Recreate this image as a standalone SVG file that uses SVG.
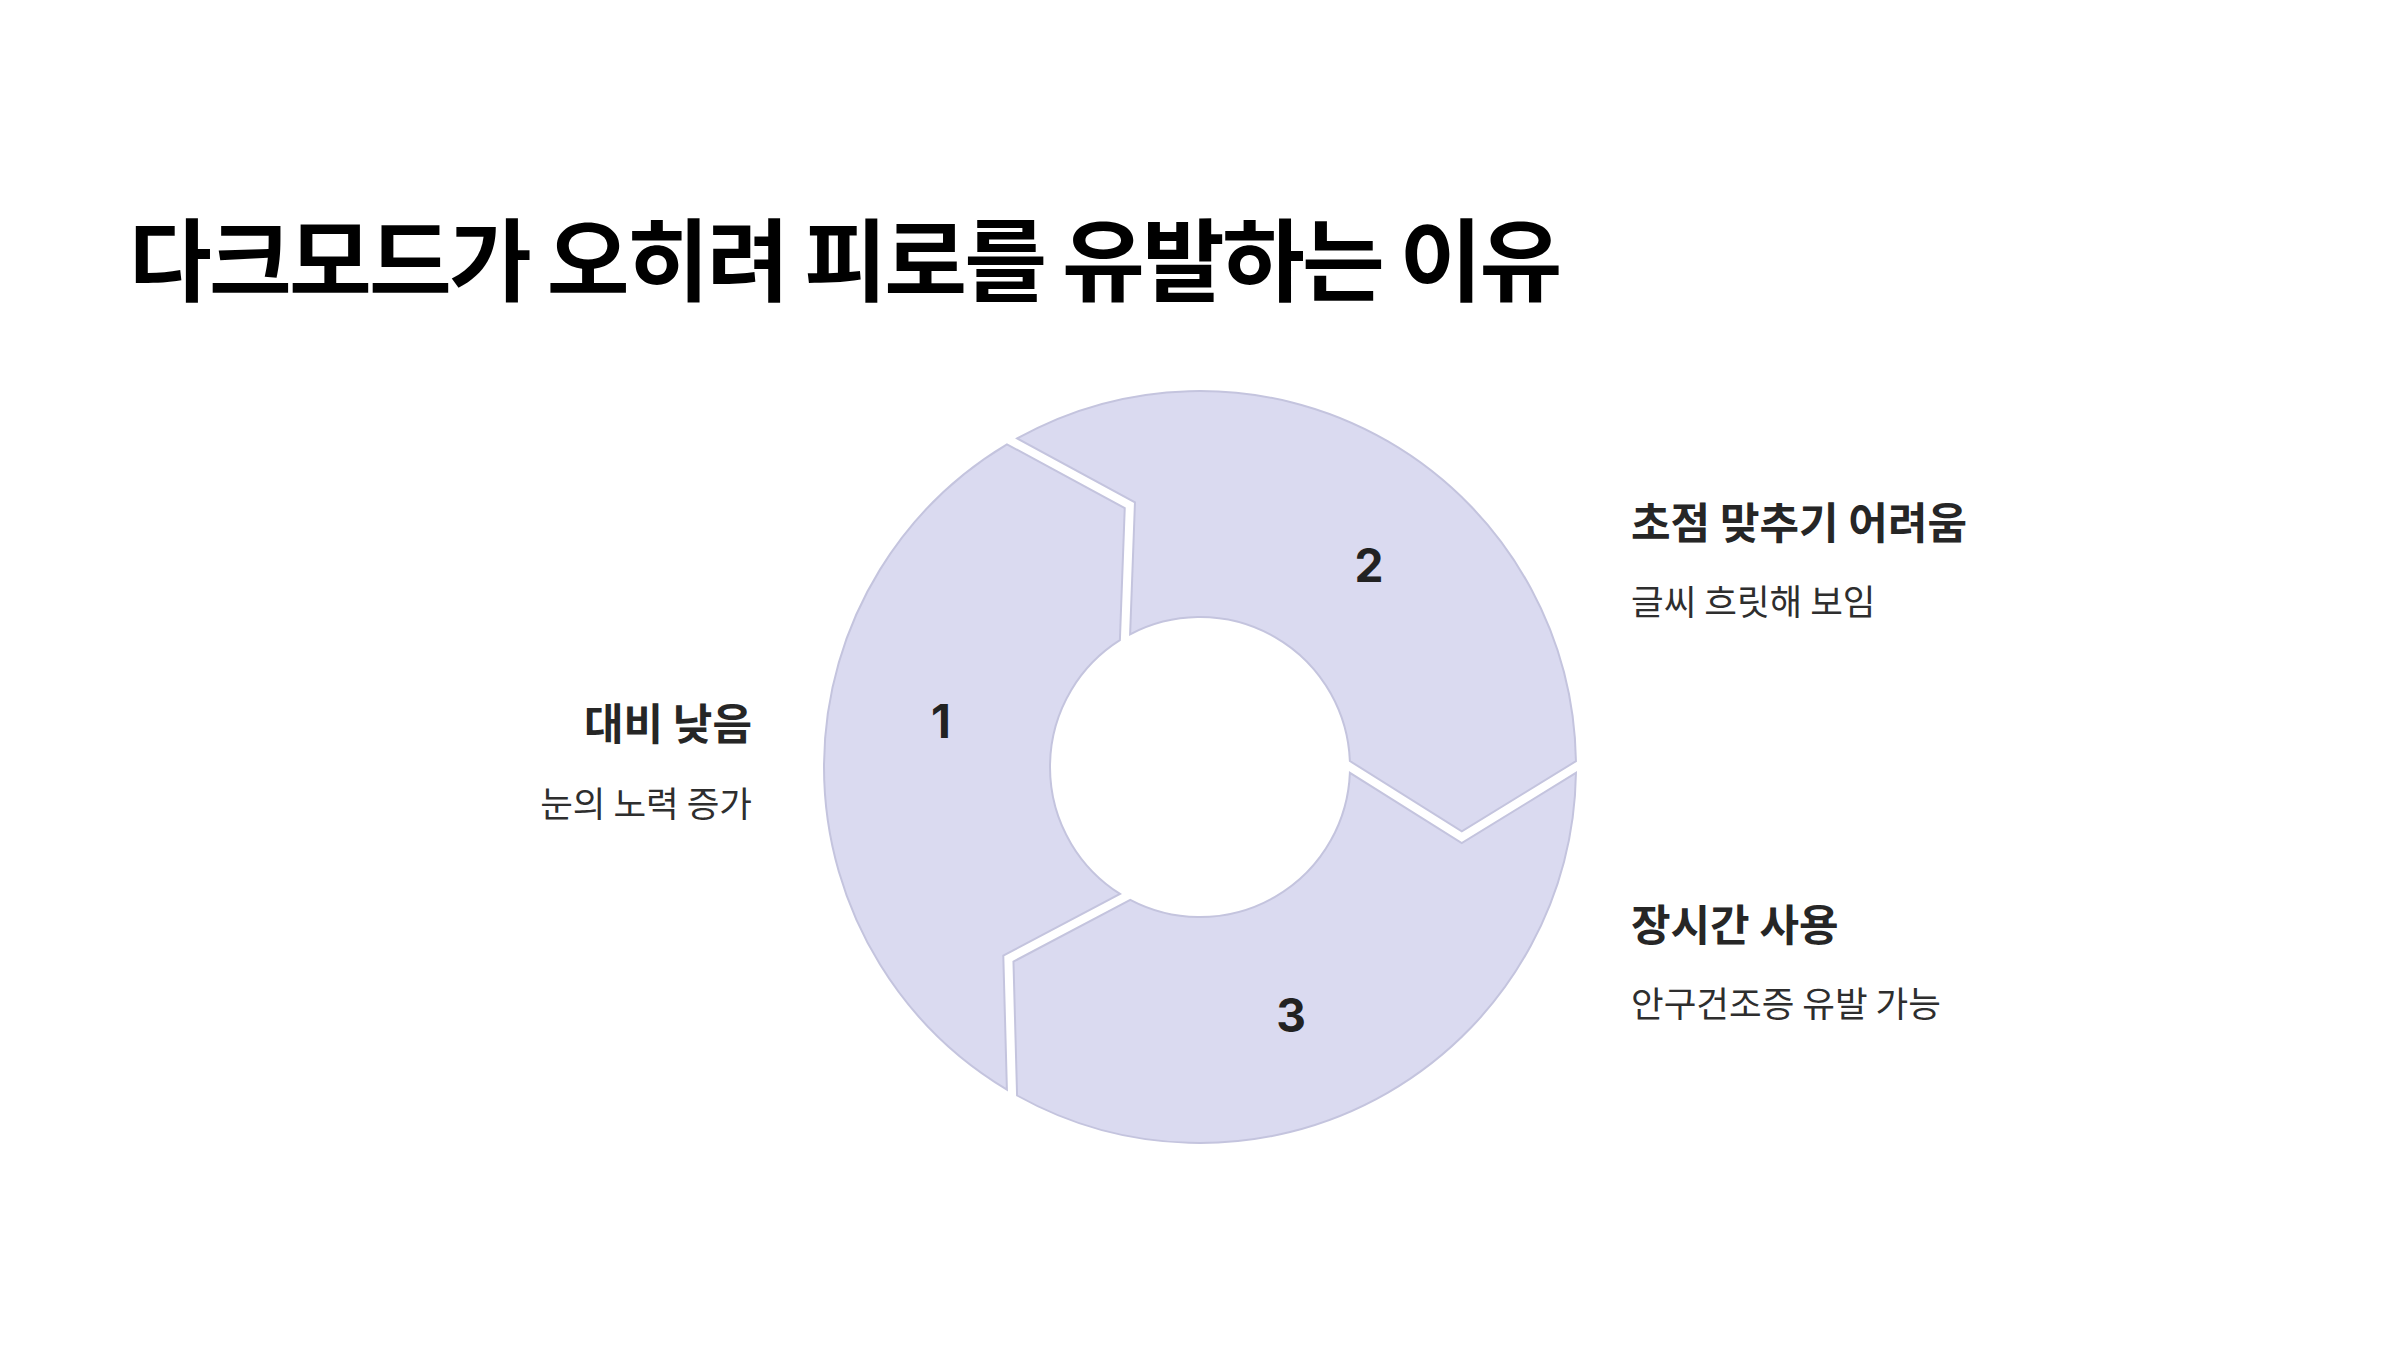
<svg xmlns="http://www.w3.org/2000/svg" xmlns:xlink="http://www.w3.org/1999/xlink" width="2400" height="1350" viewBox="0 0 2400 1350">
  <style>
    .seg { fill: #DADAF0; stroke: #C4C4DE; stroke-width: 2; stroke-linejoin: miter; }
    .num { font-family: Inter, "Liberation Sans", sans-serif; font-weight: 700; font-size: 46px; fill: #222222; text-anchor: middle; }
    .title { font-family: "Noto Sans CJK KR", "Noto Sans", sans-serif; font-weight: 700; font-size: 90px; fill: #000000; letter-spacing: -2.8px; }
    .head { font-family: "Noto Sans CJK KR", "Noto Sans", sans-serif; font-weight: 700; font-size: 43px; fill: #262626; }
    .sub { font-family: "Noto Sans CJK KR", "Noto Sans", sans-serif; font-weight: 400; font-size: 35.5px; fill: #2E2E2E; }
  </style>
  <defs>
    <path id="segshape" d="M 1575.95 772.90 A 376 376 0 0 1 1017.08 1095.50 L 1013.46 961.60 L 1130.24 899.79 A 150 150 0 0 0 1349.89 772.84 L 1461.74 843.03 Z"/>
  </defs>
  <rect x="0" y="0" width="2400" height="1350" fill="#FFFFFF"/>

  <text class="title" x="129" y="294">다크모드가 오히려 피로를 유발하는 이유</text>

  <g id="connectors"></g>

  <g id="node-1">
    <use xlink:href="#segshape" class="seg" transform="rotate(120 1200 767)"/>
    <text class="num" x="941" y="738">1</text>
  </g>
  <g id="node-2">
    <use xlink:href="#segshape" class="seg" transform="rotate(240 1200 767)"/>
    <text class="num" x="1369" y="582">2</text>
  </g>
  <g id="node-3">
    <use xlink:href="#segshape" class="seg"/>
    <text class="num" x="1291" y="1032">3</text>
  </g>

  <g id="label-1">
    <text class="head" x="752" y="740" text-anchor="end">대비 낮음</text>
    <text class="sub" x="752" y="817" text-anchor="end">눈의 노력 증가</text>
  </g>
  <g id="label-2">
    <text class="head" x="1631" y="539">초점 맞추기 어려움</text>
    <text class="sub" x="1631" y="615">글씨 흐릿해 보임</text>
  </g>
  <g id="label-3">
    <text class="head" x="1631" y="941">장시간 사용</text>
    <text class="sub" x="1631" y="1017">안구건조증 유발 가능</text>
  </g>
</svg>
